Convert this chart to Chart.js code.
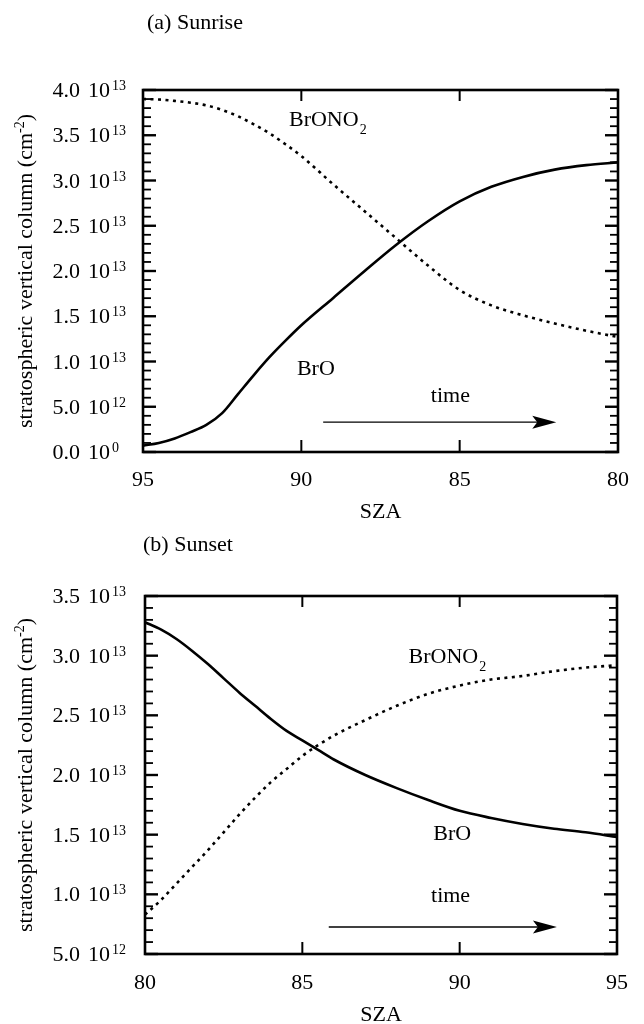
<!DOCTYPE html>
<html>
<head>
<meta charset="utf-8">
<script src="https://cdn.jsdelivr.net/npm/chart.js"></script>
<style>
html, body { margin: 0; padding: 0; background: #fff; overflow: hidden; width: 644px; height: 1024px; }
canvas { position: absolute; left: 0; }
#c1 { top: 0; }
#c2 { top: 530px; }
</style>
</head>
<body>
<canvas id="c1" width="644" height="530"></canvas>
<canvas id="c2" width="644" height="500"></canvas>
<script>
// values in units of 10^12 molecules cm^-2
const sunriseSZA = [95, 94.5, 94, 93.5, 93, 92.5, 92, 91.5, 91, 90.5, 90, 89, 88, 87, 86, 85, 84, 83, 82, 81, 80];
const sunriseBrO = [0.7, 1.0, 1.5, 2.2, 3.0, 4.3, 6.4, 8.5, 10.5, 12.3, 14.0, 17.0, 20.0, 22.9, 25.5, 27.7, 29.3, 30.4, 31.2, 31.7, 32.0];
const sunriseBrONO2 = [39.0, 38.95, 38.8, 38.6, 38.3, 37.8, 37.1, 36.2, 35.2, 34.0, 32.7, 29.6, 26.6, 23.6, 20.6, 17.9, 16.2, 15.1, 14.2, 13.4, 12.7];

const sunsetSZA = [80, 80.5, 81, 81.5, 82, 82.5, 83, 83.5, 84, 84.5, 85, 85.5, 86, 87, 88, 89, 90, 91, 92, 93, 94, 95];
const sunsetBrO = [32.8, 32.2, 31.4, 30.4, 29.3, 28.1, 26.9, 25.8, 24.7, 23.7, 22.9, 22.1, 21.3, 20.0, 18.9, 17.9, 17.0, 16.4, 15.9, 15.5, 15.2, 14.8];
const sunsetBrONO2 = [8.3, 9.5, 10.9, 12.3, 13.7, 15.2, 16.7, 18.1, 19.4, 20.5, 21.6, 22.5, 23.3, 24.6, 25.8, 26.8, 27.5, 28.0, 28.3, 28.7, 29.0, 29.2];

const sunriseXTicks = [95, 90, 85, 80];
const sunsetXTicks = [80, 85, 90, 95];
const sunriseYTicks = [0, 5, 10, 15, 20, 25, 30, 35, 40];
const sunriseYMant = ['0.0', '5.0', '1.0', '1.5', '2.0', '2.5', '3.0', '3.5', '4.0'];
const sunriseYExp = ['0', '12', '13', '13', '13', '13', '13', '13', '13'];
const sunsetYTicks = [5, 10, 15, 20, 25, 30, 35];
const sunsetYMant = ['5.0', '1.0', '1.5', '2.0', '2.5', '3.0', '3.5'];
const sunsetYExp = ['12', '13', '13', '13', '13', '13', '13'];

const SERIF = '"Liberation Serif", "Times New Roman", serif';

function line(ctx, x1, y1, x2, y2) {
  ctx.beginPath(); ctx.moveTo(x1, y1); ctx.lineTo(x2, y2); ctx.stroke();
}

const panelPlugin = {
  id: 'panel',
  afterDraw(chart, args, o) {
    const { ctx, chartArea: a, scales: { x, y } } = chart;
    ctx.save();
    ctx.strokeStyle = '#000';
    ctx.fillStyle = '#000';
    ctx.lineWidth = 2.6;
    ctx.strokeRect(a.left, a.top, a.right - a.left, a.bottom - a.top);

    // x ticks, inward, top and bottom
    ctx.lineWidth = 2;
    o.xTicks.forEach(v => {
      const px = x.getPixelForValue(v);
      if (px < a.left + 2 || px > a.right - 2) return;
      line(ctx, px, a.bottom, px, a.bottom - 12);
      line(ctx, px, a.top, px, a.top + 11);
    });
    // y ticks, inward, left and right
    for (let v = y.min; v <= y.max; v += 1) {
      const py = y.getPixelForValue(v);
      const len = o.yTicks.includes(v) ? 13 : 8;
      ctx.lineWidth = o.yTicks.includes(v) ? 2.4 : 1.8;
      line(ctx, a.left, py, a.left + len, py);
      line(ctx, a.right, py, a.right - len, py);
    }

    // y tick labels "m 10^e"
    o.yTicks.forEach((v, i) => {
      const py = y.getPixelForValue(v);
      ctx.font = '22px ' + SERIF;
      ctx.textBaseline = 'alphabetic';
      ctx.textAlign = 'right';
      ctx.fillText(o.yMant[i], 80, py + 7);
      ctx.textAlign = 'left';
      ctx.fillText('10', 88, py + 7);
      const w = ctx.measureText('10').width;
      ctx.font = '14px ' + SERIF;
      ctx.fillText(o.yExp[i], 88 + w + 2, py);
    });

    // y axis title with superscript
    const cy = (a.top + a.bottom) / 2;
    const t1 = 'stratospheric vertical column (cm', t2 = '-2', t3 = ')';
    ctx.font = '22px ' + SERIF;
    const w1 = ctx.measureText(t1).width, w3 = ctx.measureText(t3).width;
    ctx.font = '14px ' + SERIF;
    const w2 = ctx.measureText(t2).width;
    ctx.translate(25, cy);
    ctx.rotate(-Math.PI / 2);
    ctx.textAlign = 'left';
    ctx.textBaseline = 'alphabetic';
    let sx = -(w1 + w2 + w3) / 2;
    ctx.font = '22px ' + SERIF;
    ctx.fillText(t1, sx, 7);
    ctx.font = '14px ' + SERIF;
    ctx.fillText(t2, sx + w1, -1);
    ctx.font = '22px ' + SERIF;
    ctx.fillText(t3, sx + w1 + w2, 7);
    ctx.setTransform(1, 0, 0, 1, 0, 0);

    // panel title
    ctx.font = '22px ' + SERIF;
    ctx.textBaseline = 'middle';
    ctx.textAlign = 'left';
    ctx.fillText(o.title, o.titleX, o.titleY);

    // curve labels
    ctx.textBaseline = 'alphabetic';
    o.labels.forEach(l => {
      const px = x.getPixelForValue(l.x), py = y.getPixelForValue(l.y);
      ctx.font = '22px ' + SERIF;
      ctx.fillText(l.text, px, py);
      if (l.sub) {
        const w = ctx.measureText(l.text).width;
        ctx.font = '14px ' + SERIF;
        ctx.fillText(l.sub, px + w + 1, py + 8);
      }
    });

    // time arrow
    const ax1 = x.getPixelForValue(o.arrow.from), ax2 = x.getPixelForValue(o.arrow.to);
    const ay = y.getPixelForValue(o.arrow.y);
    ctx.lineWidth = 1.4;
    line(ctx, ax1, ay, ax2 - 10, ay);
    ctx.beginPath();
    ctx.moveTo(ax2, ay);
    ctx.lineTo(ax2 - 24, ay - 6.5);
    ctx.lineTo(ax2 - 19, ay);
    ctx.lineTo(ax2 - 24, ay + 6.5);
    ctx.closePath();
    ctx.fill();
    ctx.restore();
  }
};

function makeChart(id, c) {
  return new Chart(document.getElementById(id), {
    type: 'line',
    data: {
      datasets: [
        {
          label: 'BrO',
          data: c.sza.map((v, i) => ({ x: v, y: c.bro[i] })),
          borderColor: '#000', borderWidth: 2.6, pointRadius: 0,
          cubicInterpolationMode: 'monotone', fill: false
        },
        {
          label: 'BrONO2',
          data: c.sza.map((v, i) => ({ x: v, y: c.brono2[i] })),
          borderColor: '#000', borderWidth: 2.6, borderDash: [3, 4.5], pointRadius: 0,
          cubicInterpolationMode: 'monotone', fill: false
        }
      ]
    },
    options: {
      responsive: false,
      animation: false,
      devicePixelRatio: 1,
      layout: { padding: c.padding },
      plugins: {
        legend: { display: false },
        tooltip: { enabled: false },
        panel: c.panel
      },
      scales: {
        x: {
          type: 'linear', min: 80, max: 95, reverse: c.reverse,
          grid: { display: false, drawTicks: false },
          border: { display: false },
          afterBuildTicks: s => { s.ticks = c.panel.xTicks.map(v => ({ value: v })); },
          ticks: { color: '#000', font: { family: SERIF, size: 22 }, padding: c.tickPad, maxRotation: 0, autoSkip: false },
          title: { display: true, text: 'SZA', color: '#000', font: { family: SERIF, size: 22 }, padding: { top: 0, bottom: c.szaPad } },
          afterFit: s => { s.height = c.xHeight; }
        },
        y: {
          type: 'linear', min: c.yMin, max: c.yMax,
          grid: { display: false, drawTicks: false },
          border: { display: false },
          afterBuildTicks: s => { s.ticks = c.panel.yTicks.map(v => ({ value: v })); },
          ticks: { display: false },
          afterFit: s => { s.width = c.yWidth; }
        }
      }
    },
    plugins: [panelPlugin]
  });
}

makeChart('c1', {
  sza: sunriseSZA, bro: sunriseBrO, brono2: sunriseBrONO2,
  reverse: true, yMin: 0, yMax: 40,
  padding: { top: 90, right: 16, bottom: 0, left: 0 },
  yWidth: 143, xHeight: 78, tickPad: 15, szaPad: 5,
  panel: {
    xTicks: sunriseXTicks, yTicks: sunriseYTicks, yMant: sunriseYMant, yExp: sunriseYExp,
    title: '(a) Sunrise', titleX: 147, titleY: 23,
    labels: [
      { text: 'BrONO', sub: '2', x: 90.39, y: 36.0 },
      { text: 'BrO', x: 90.14, y: 8.5 },
      { text: 'time', x: 85.91, y: 5.5 }
    ],
    arrow: { from: 89.31, to: 81.95, y: 3.3 }
  }
});

makeChart('c2', {
  sza: sunsetSZA, bro: sunsetBrO, brono2: sunsetBrONO2,
  reverse: false, yMin: 5, yMax: 35,
  padding: { top: 66, right: 19, bottom: 0, left: 0 },
  yWidth: 145, xHeight: 76, tickPad: 16, szaPad: 2,
  panel: {
    xTicks: sunsetXTicks, yTicks: sunsetYTicks, yMant: sunsetYMant, yExp: sunsetYExp,
    title: '(b) Sunset', titleX: 143, titleY: 15,
    labels: [
      { text: 'BrONO', sub: '2', x: 88.375, y: 29.4 },
      { text: 'BrO', x: 89.16, y: 14.56 },
      { text: 'time', x: 89.09, y: 9.36 }
    ],
    arrow: { from: 85.84, to: 93.09, y: 7.26 }
  }
});
</script>
</body>
</html>
